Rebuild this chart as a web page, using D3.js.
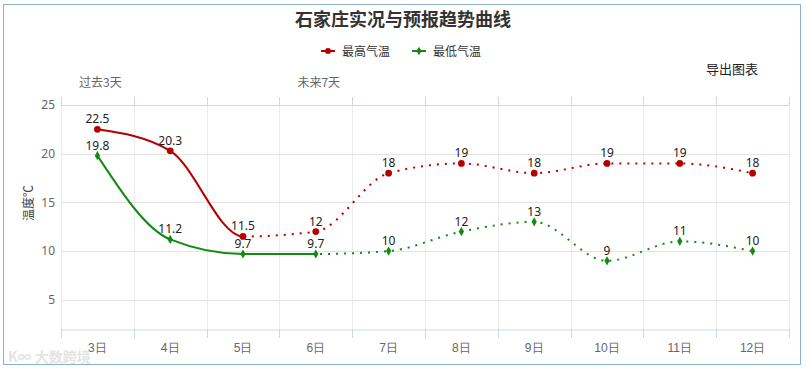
<!DOCTYPE html>
<html>
<head>
<meta charset="utf-8">
<script src="https://cdn.jsdelivr.net/npm/d3@7"></script>
<style>
    body { margin: 0; background: #fff; font-family: "Microsoft YaHei", "Noto Sans CJK SC", sans-serif; }
    #chart { width: 807px; height: 368px; }
</style>
</head>
<body>
<div id="chart"></div>
<script>
//DATA
let days = ['3日', '4日', '5日', '6日', '7日', '8日', '9日', '10日', '11日', '12日'];
let highTemps = [22.5, 20.3, 11.5, 12, 18, 19, 18, 19, 19, 18];
let lowTemps = [19.8, 11.2, 9.7, 9.7, 10, 12, 13, 9, 11, 10];
let yTicks = [5, 10, 15, 20, 25];
let seriesNames = ['最高气温', '最低气温'];
let colors = ['#b50000', '#138a13'];
//index where the observed (solid) part ends
let solidEnd = [2, 3];

let svg = d3.select('#chart').append('svg')
    .attr('width', 807)
    .attr('height', 368);

//frame
svg.append('rect')
    .attr('x', 3.5).attr('y', 4.5)
    .attr('width', 797).attr('height', 360)
    .attr('fill', 'none')
    .attr('stroke', '#8db1cc');

let plotLeft = 61, plotRight = 789, plotTop = 105, plotBottom = 329;

let x = d3.scaleBand().domain(days).range([plotLeft, plotRight]);
let y = d3.scaleLinear().domain([2, 25]).range([plotBottom, plotTop]);
let cx = function(i) { return x(days[i]) + x.bandwidth() / 2; };

//title
svg.append('text')
    .attr('x', 403).attr('y', 26)
    .attr('text-anchor', 'middle')
    .attr('font-size', 18).attr('font-weight', 'bold')
    .attr('fill', '#333')
    .text('石家庄实况与预报趋势曲线');

//legend
let legendX = [321, 412];
seriesNames.forEach(function(name, i) {
    let g = svg.append('g').attr('transform', 'translate(' + legendX[i] + ',51)');
    g.append('line').attr('x1', 0).attr('x2', 14).attr('stroke', colors[i]).attr('stroke-width', 2);
    g.append('path')
        .attr('transform', 'translate(7,0)')
        .attr('d', d3.symbol().type(i == 0 ? d3.symbolCircle : d3.symbolDiamond).size(i == 0 ? 28 : 22)())
        .attr('fill', colors[i]);
    g.append('text').attr('x', 21).attr('y', 4.5)
        .attr('font-size', 12).attr('fill', '#333')
        .text(name);
});

svg.append('text')
    .attr('x', 732).attr('y', 74)
    .attr('text-anchor', 'middle')
    .attr('font-size', 13).attr('fill', '#222')
    .text('导出图表');

//top labels
svg.append('text').attr('x', cx(0) + 3).attr('y', 87)
    .attr('text-anchor', 'middle').attr('font-size', 12).attr('fill', '#666')
    .text('过去3天');
svg.append('text').attr('x', cx(3) + 3).attr('y', 87)
    .attr('text-anchor', 'middle').attr('font-size', 12).attr('fill', '#666')
    .text('未来7天');

//vertical grid
let bounds = days.map(function(d) { return x(d); }).concat([plotRight]);
svg.append('g').selectAll('line')
    .data(bounds)
    .enter().append('line')
    .attr('x1', function(d) { return Math.round(d) + 0.5; })
    .attr('x2', function(d) { return Math.round(d) + 0.5; })
    .attr('y1', plotTop).attr('y2', plotBottom)
    .attr('stroke', '#ececec');

//horizontal grid
svg.append('g').selectAll('line')
    .data(yTicks)
    .enter().append('line')
    .attr('x1', plotLeft).attr('x2', plotRight)
    .attr('y1', function(d) { return Math.round(y(d)) + 0.5; })
    .attr('y2', function(d) { return Math.round(y(d)) + 0.5; })
    .attr('stroke', function(d) { return d == 25 ? '#ccd6eb' : '#e3e3e3'; });

//y axis labels
let yAxis = svg.append('g')
    .attr('transform', 'translate(' + (plotLeft - 6) + ',0)')
    .call(d3.axisLeft(y).tickValues(yTicks).tickSize(0).tickPadding(0));
yAxis.select('.domain').remove();
yAxis.selectAll('text').attr('font-size', 12).attr('fill', '#666')
    .attr('font-family', '"Noto Sans", sans-serif');

svg.append('text')
    .attr('transform', 'translate(33,203) rotate(-90)')
    .attr('text-anchor', 'middle')
    .attr('font-size', 12).attr('fill', '#444')
    .text('温度℃');

//bottom axis
let xAxis = svg.append('g')
    .attr('transform', 'translate(0,' + (plotBottom + 0.5) + ')')
    .call(d3.axisBottom(x).tickSize(0).tickPadding(14));
xAxis.select('.domain').attr('stroke', '#ccd6eb');
xAxis.selectAll('text').attr('font-size', 12).attr('fill', '#666');
svg.append('g').selectAll('line')
    .data(bounds)
    .enter().append('line')
    .attr('x1', function(d) { return Math.round(d) + 0.5; })
    .attr('x2', function(d) { return Math.round(d) + 0.5; })
    .attr('y1', plotBottom).attr('y2', plotBottom + 9)
    .attr('stroke', '#ccd6eb');

//top axis ticks
svg.append('g').selectAll('line')
    .data(bounds)
    .enter().append('line')
    .attr('x1', function(d) { return Math.round(d) + 0.5; })
    .attr('x2', function(d) { return Math.round(d) + 0.5; })
    .attr('y1', plotTop - 8).attr('y2', plotTop)
    .attr('stroke', '#ccd6eb');

//lines
let line = d3.line()
    .x(function(d, i) { return cx(i); })
    .y(function(d) { return y(d); })
    .curve(d3.curveMonotoneX);

let defs = svg.append('defs');
[highTemps, lowTemps].forEach(function(values, s) {
    let splitX = cx(solidEnd[s]);
    defs.append('clipPath').attr('id', 'solid' + s)
        .append('rect').attr('x', 0).attr('y', 0).attr('width', splitX).attr('height', 368);
    defs.append('clipPath').attr('id', 'dot' + s)
        .append('rect').attr('x', splitX).attr('y', 0).attr('width', 807 - splitX).attr('height', 368);

    svg.append('path')
        .attr('d', line(values))
        .attr('fill', 'none')
        .attr('stroke', colors[s])
        .attr('stroke-width', 2)
        .attr('clip-path', 'url(#solid' + s + ')');
    svg.append('path')
        .attr('d', line(values))
        .attr('fill', 'none')
        .attr('stroke', colors[s])
        .attr('stroke-width', 2)
        .attr('stroke-dasharray', '2,6')
        .attr('clip-path', 'url(#dot' + s + ')');

    //markers
    svg.append('g').selectAll('path')
        .data(values)
        .enter().append('path')
        .attr('transform', function(d, i) { return 'translate(' + cx(i) + ',' + y(d) + ')'; })
        .attr('d', d3.symbol().type(s == 0 ? d3.symbolCircle : d3.symbolDiamond).size(s == 0 ? 36 : 24)())
        .attr('fill', colors[s]);

    //data labels
    svg.append('g').selectAll('text')
        .data(values)
        .enter().append('text')
        .attr('x', function(d, i) { return cx(i); })
        .attr('y', function(d) { return y(d) - 6; })
        .attr('text-anchor', 'middle')
        .attr('font-size', 12)
        .attr('font-family', '"Noto Sans", sans-serif')
        .attr('fill', '#222')
        .text(function(d) { return d; });
});

//watermark
svg.append('text')
    .attr('x', 8).attr('y', 362)
    .attr('font-size', 14).attr('font-weight', 'bold')
    .attr('fill', '#e2e2e2').attr('opacity', 0.9)
    .text('K∞ 大数跨境');
</script>
</body>
</html>
